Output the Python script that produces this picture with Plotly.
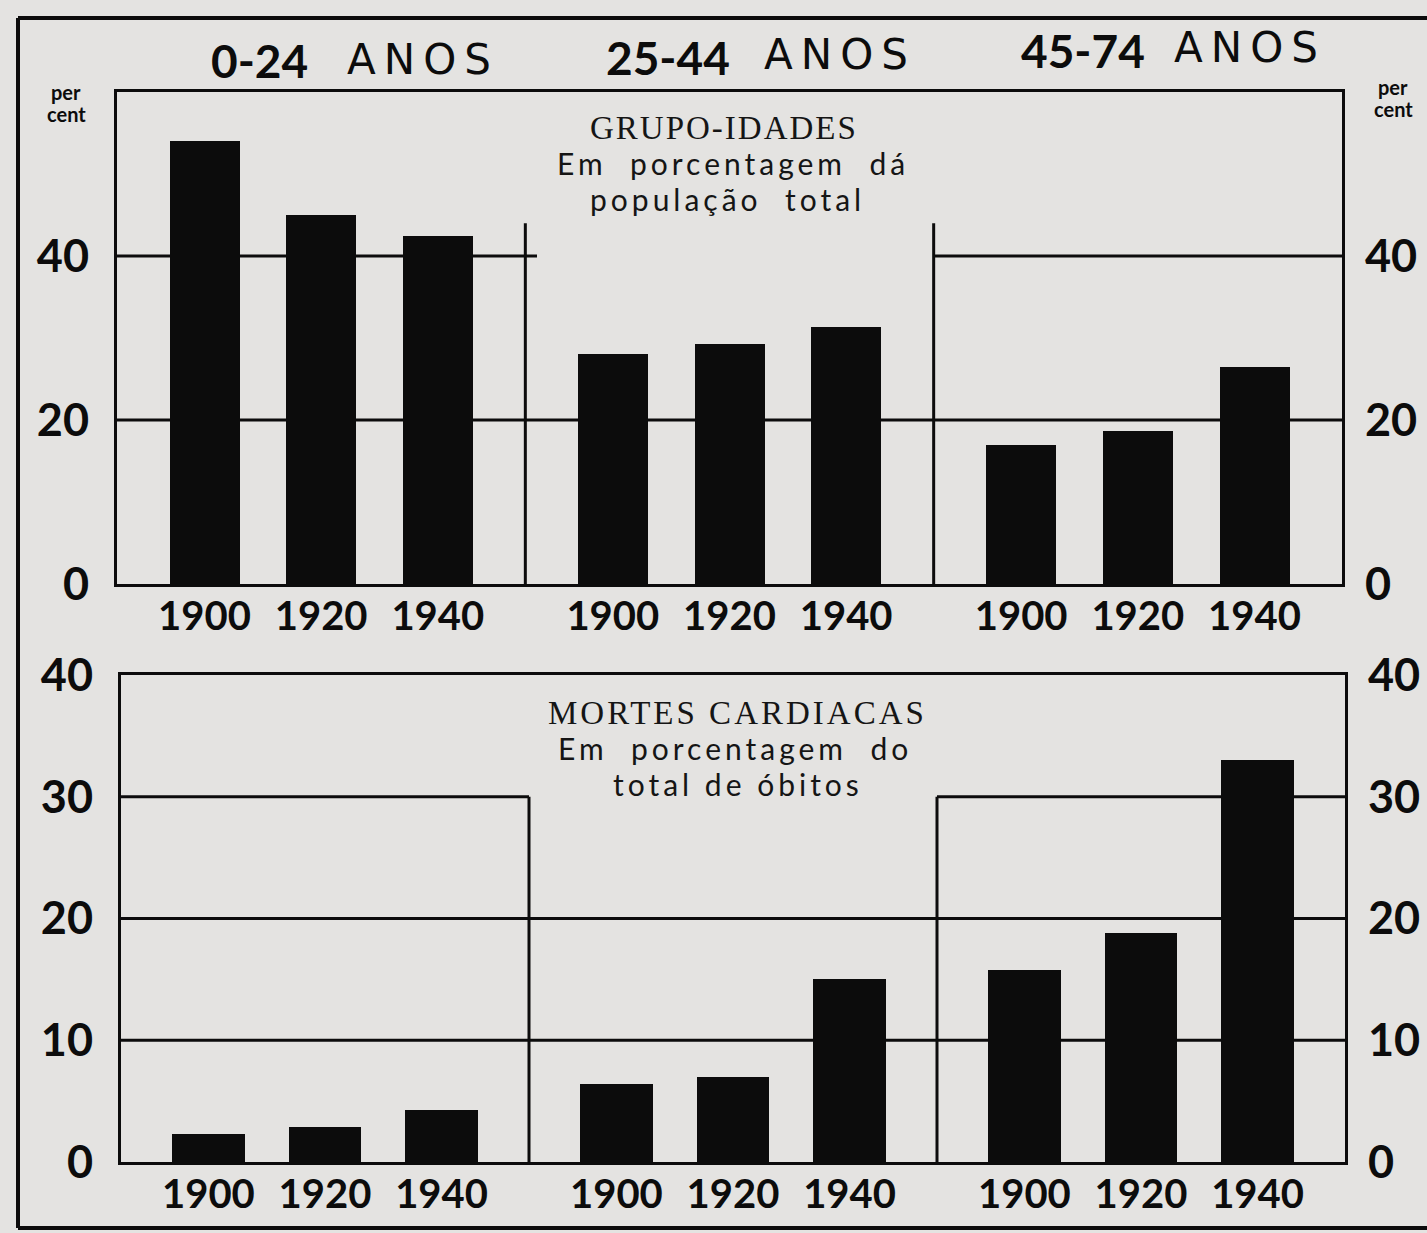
import plotly.graph_objects as go

# ---------------- data ----------------
age_groups = ["0-24", "25-44", "45-74"]
years = ["1900", "1920", "1940"]

# Age groups as percent of total population
pop_0_24 = [54.0, 45.0, 42.5]
pop_25_44 = [28.0, 29.3, 31.3]
pop_45_74 = [17.0, 18.6, 26.5]

# Heart deaths as percent of total deaths
heart_0_24 = [2.3, 2.9, 4.3]
heart_25_44 = [6.4, 7.0, 15.0]
heart_45_74 = [15.8, 18.8, 33.0]

top_ticks = [0, 20, 40]
bottom_ticks = [0, 10, 20, 30, 40]

# ---------------- layout helpers ----------------
W, H = 1427, 1233
BG = "#e4e3e1"
INK = "#0c0c0c"


def px(x):
    return x / W


def py(y):
    return 1 - y / H


SLOT = 3.5       # width of each age-group slot in x units
OFFSET = 0.75    # position of first bar inside a slot

xpos = [g * SLOT + OFFSET + j for g in range(len(age_groups)) for j in range(len(years))]
xlabels = years * len(age_groups)
pop_vals = pop_0_24 + pop_25_44 + pop_45_74
heart_vals = heart_0_24 + heart_25_44 + heart_45_74

fig = go.Figure()
fig.add_trace(go.Bar(x=xpos, y=pop_vals, xaxis="x", yaxis="y", width=0.6,
                     marker=dict(color=INK, line=dict(width=0)), showlegend=False))
fig.add_trace(go.Bar(x=xpos, y=heart_vals, xaxis="x2", yaxis="y2", width=0.62,
                     marker=dict(color=INK, line=dict(width=0)), showlegend=False))
# invisible helpers so the right-hand axes are drawn
fig.add_trace(go.Scatter(x=xpos, y=pop_vals, xaxis="x", yaxis="y3", mode="markers",
                         marker=dict(opacity=0), showlegend=False, hoverinfo="skip"))
fig.add_trace(go.Scatter(x=xpos, y=heart_vals, xaxis="x2", yaxis="y4", mode="markers",
                         marker=dict(opacity=0), showlegend=False, hoverinfo="skip"))

year_font = dict(family="Lato, DejaVu Sans", size=40, color=INK, weight="bold")
tick_font = dict(family="Lato, DejaVu Sans", size=45, color=INK, weight="bold")

common_x = dict(range=[0, SLOT * 3], tickvals=xpos, ticktext=xlabels, tickfont=year_font,
                ticks="", showgrid=False, zeroline=False, showline=True, mirror=True,
                linewidth=3, linecolor=INK, ticklabelstandoff=-5, fixedrange=True,
                automargin=False)
common_y = dict(showgrid=False, zeroline=False, ticks="", tickfont=tick_font,
                showline=True, mirror=True, linewidth=3, linecolor=INK,
                ticklabelstandoff=16, fixedrange=True, automargin=False)
right_y = dict(showgrid=False, zeroline=False, showline=False, ticks="", tickfont=tick_font,
               ticklabelstandoff=22, fixedrange=True, automargin=False)

fig.update_layout(
    width=W, height=H,
    margin=dict(l=0, r=0, t=0, b=0, pad=0, autoexpand=False),
    paper_bgcolor=BG, plot_bgcolor=BG,
    bargap=0,
    xaxis=dict(domain=[px(117), px(1342)], anchor="y", **common_x),
    yaxis=dict(domain=[py(584), py(92)], anchor="x", range=[0, 60], tickvals=top_ticks, **common_y),
    yaxis3=dict(overlaying="y", side="right", anchor="x", range=[0, 60], tickvals=top_ticks, **right_y),
    xaxis2=dict(domain=[px(121), px(1345)], anchor="y2", **common_x),
    yaxis2=dict(domain=[py(1162), py(675)], anchor="x2", range=[0, 40], tickvals=bottom_ticks, **common_y),
    yaxis4=dict(overlaying="y2", side="right", anchor="x2", range=[0, 40], tickvals=bottom_ticks, **right_y),
)

shapes = []
lw = 3


def seg(xref, yref, x0, x1, y0, y1, width=lw):
    shapes.append(dict(type="line", xref=xref, yref=yref, x0=x0, x1=x1, y0=y0, y1=y1,
                       line=dict(color=INK, width=width), layer="below"))


# top panel guide lines
seg("x", "y", 0, SLOT * 3, top_ticks[1], top_ticks[1])
seg("x", "y", 0, SLOT + 0.1, top_ticks[2], top_ticks[2])
seg("x", "y", SLOT * 2, SLOT * 3, top_ticks[2], top_ticks[2])
seg("x", "y", SLOT, SLOT, 0, 44)
seg("x", "y", SLOT * 2, SLOT * 2, 0, 44)
# bottom panel guide lines
seg("x2", "y2", 0, SLOT * 3, bottom_ticks[1], bottom_ticks[1])
seg("x2", "y2", 0, SLOT * 3, bottom_ticks[2], bottom_ticks[2])
seg("x2", "y2", 0, SLOT, bottom_ticks[3], bottom_ticks[3])
seg("x2", "y2", SLOT * 2, SLOT * 3, bottom_ticks[3], bottom_ticks[3])
seg("x2", "y2", SLOT, SLOT, 0, bottom_ticks[3])
seg("x2", "y2", SLOT * 2, SLOT * 2, 0, bottom_ticks[3])

# outer frame of the whole graphic
for (x0, y0, x1, y1) in [(18, 18, W, 18), (18, 18, 18, 1228), (18, 1228, W, 1228)]:
    shapes.append(dict(type="line", xref="paper", yref="paper", x0=px(x0), x1=px(x1),
                       y0=py(y0), y1=py(y1), line=dict(color=INK, width=4)))

fig.update_layout(shapes=shapes)

ann = []


def text(x, y, s, size, family="Lato, DejaVu Sans", weight="normal", color="#151515", ls=0):
    if ls:
        s = "<span style='letter-spacing:%spx'>%s</span>" % (ls, s)
    ann.append(dict(x=px(x), y=py(y), xref="paper", yref="paper", text=s, showarrow=False,
                    xanchor="center", yanchor="middle",
                    font=dict(family=family, size=size, color=color, weight=weight)))


# age-group headings
head_pos = [(259, 423, 61), (668, 840, 57), (1083, 1250, 50)]
for grp, (xn, xa, yy) in zip(age_groups, head_pos):
    text(xn, yy, grp, 46, weight="bold", color=INK)
    text(xa, yy - 2, "ANOS", 42, family="DejaVu Sans, Lato", color=INK, ls=8)

# per cent labels
for (xx, yy) in [(66, 92), (1393, 87)]:
    text(xx, yy, "per", 20, weight="bold", color=INK)
    text(xx, yy + 22, "cent", 20, weight="bold", color=INK)

# panel titles
sp = "\u00a0"
sp2 = "\u00a0\u00a0"
text(724, 128, "GRUPO-IDADES", 33, family="Liberation Serif, serif", ls=2)
text(733, 163, "Em" + sp2 + "porcentagem" + sp2 + "dá", 30, ls=4)
text(727, 199, "população" + sp2 + "total", 30, ls=4)
text(737, 713, "MORTES CARDIACAS", 33, family="Liberation Serif, serif", ls=3)
text(735, 748, "Em" + sp2 + "porcentagem" + sp2 + "do", 30, ls=4)
text(738, 784, "total" + sp + "de" + sp + "óbitos", 30, ls=4)

fig.update_layout(annotations=ann)

fig.write_html(
    "out.html",
    config={"displayModeBar": False},
    post_script="document.body.style.margin='0';document.body.style.background='" + BG + "';",
)
